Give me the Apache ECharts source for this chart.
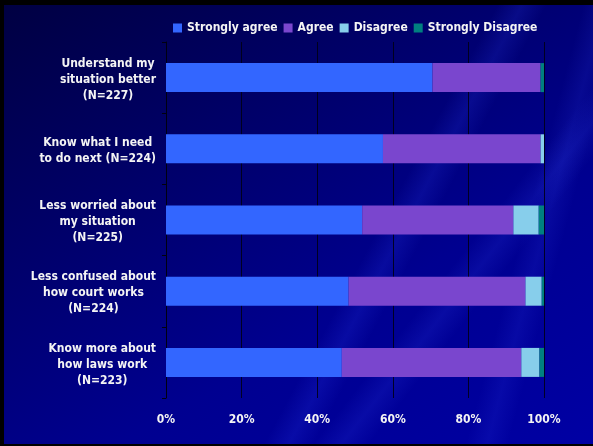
<!DOCTYPE html>
<html>
<head>
<meta charset="utf-8">
<script src="https://cdn.jsdelivr.net/npm/echarts@6/dist/echarts.min.js"></script>
<style>
html,body{margin:0;padding:0;width:593px;height:446px;overflow:hidden;background:#000;}
#bg{position:absolute;left:4px;top:5px;width:589px;height:439px;
background:
 linear-gradient(118deg, rgba(0,0,0,0) 60%, rgba(50,70,255,0.16) 63%, rgba(0,0,0,0) 66%),
 linear-gradient(128deg, rgba(0,0,0,0) 70%, rgba(60,80,255,0.14) 73%, rgba(0,0,0,0) 76%),
 linear-gradient(105deg, rgba(0,0,0,0) 82%, rgba(60,80,255,0.12) 85%, rgba(0,0,0,0) 88%),
 linear-gradient(150deg, #000042 0%, #00006c 35%, #000090 65%, #0000a4 100%);}
#chart{position:absolute;left:0;top:0;width:593px;height:446px;}
</style>
</head>
<body>
<div id="bg"></div>
<div id="chart"></div>
<script>
const categories = [
  "Understand my\nsituation better\n(N=227)",
  "Know what I need\nto do next (N=224)",
  "Less worried about\nmy situation\n(N=225)",
  "Less confused about\nhow court works\n(N=224)",
  "Know more about\nhow laws work\n(N=223)"
];
const seriesNames = ["Strongly agree", "Agree", "Disagree", "Strongly Disagree"];
const stronglyAgree = [70.5, 57.4, 51.9, 48.3, 46.5];
const agree = [28.6, 41.7, 40.0, 46.8, 47.5];
const disagree = [0, 0.9, 6.7, 4.3, 4.8];
const stronglyDisagree = [0.9, 0, 1.4, 0.6, 1.2];
const xTicks = [0, 20, 40, 60, 80, 100];
const colors = ["#3366FF", "#7A46CE", "#87CEEB", "#008080"];

const font = "'DejaVu Sans Condensed', 'DejaVu Sans'";
const chart = echarts.init(document.getElementById('chart'), null, {renderer: 'canvas'});
const values = [stronglyAgree, agree, disagree, stronglyDisagree];
chart.setOption({
  backgroundColor: 'transparent',
  animation: false,
  color: colors,
  legend: {
    data: seriesNames,
    left: 168, top: 17,
    icon: 'rect', itemWidth: 9, itemHeight: 9, itemGap: 6,
    textStyle: {color: '#f4f4f4', fontFamily: font, fontWeight: 'bold', fontSize: 12}
  },
  grid: {left: 166, right: 49, top: 42, bottom: 48, containLabel: false},
  xAxis: {
    type: 'value', min: xTicks[0], max: xTicks[xTicks.length-1], interval: 20,
    axisLine: {show: false}, axisTick: {show: false},
    splitLine: {show: true, lineStyle: {color: '#000010', width: 1, opacity: 0.85}},
    axisLabel: {color: '#f4f4f4', fontFamily: font, fontWeight: 'bold', fontSize: 12, margin: 16,
      formatter: v => v + '%'}
  },
  yAxis: {
    type: 'category', inverse: true, data: categories,
    axisLine: {show: true, lineStyle: {color: '#000010', width: 1}},
    axisTick: {show: true, length: 4, lineStyle: {color: '#000010'}},
    axisLabel: {
      margin: 10, align: 'right', padding: [4, 0, 0, 0],
      formatter: v => v.split('\n').map(s => '{c|' + s + '}').join('\n'),
      rich: {c: {align: 'center', color: '#f4f4f4', fontFamily: font, fontWeight: 'bold', fontSize: 12, lineHeight: 16}}
    }
  },
  series: seriesNames.map((n, i) => ({
    name: n, type: 'bar', stack: 'total', barWidth: 29,
    data: values[i], itemStyle: {color: colors[i]}
  }))
});
</script>
</body>
</html>
